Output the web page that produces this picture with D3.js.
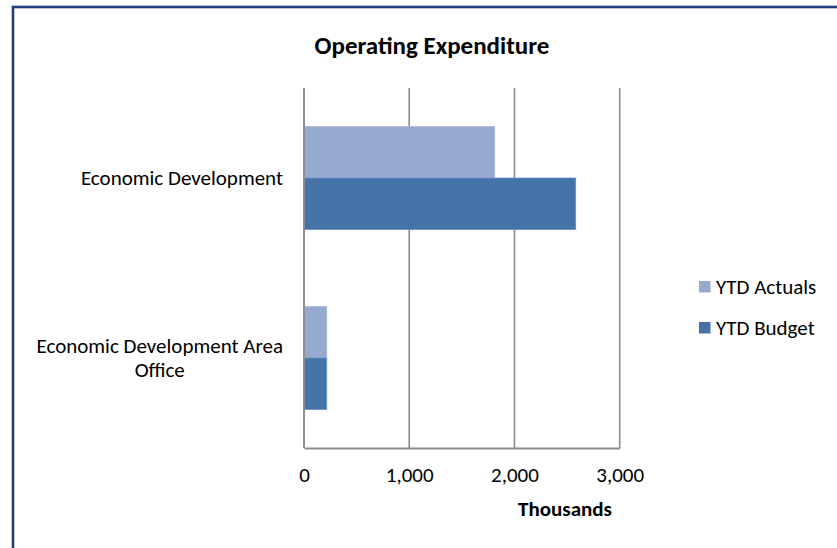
<!DOCTYPE html>
<html>
<head>
<meta charset="utf-8">
<script src="https://cdn.jsdelivr.net/npm/d3@7"></script>
<style>
  html, body { margin: 0; padding: 0; background: #fff; }
  svg { display: block; }
  text { font-family: Carlito, Calibri, Lato, "Open Sans", sans-serif; fill: #000; }
</style>
</head>
<body>
<svg id="chart" width="837" height="548"></svg>
<script>
const categories = ["Economic Development", "Economic Development Area Office"];
const seriesNames = ["YTD Actuals", "YTD Budget"];
const ytdActuals = [1812, 216];
const ytdBudget = [2582, 216];
const xTicks = [0, 1000, 2000, 3000];
const title = "Operating Expenditure";
const xAxisTitle = "Thousands";
const colors = ["#95A9D1", "#4573A7"];

const svg = d3.select("#chart");
const W = 837, H = 548;
const FS = 21;

// outer chart border
svg.append("rect")
  .attr("x", 13).attr("y", 7)
  .attr("width", W + 20).attr("height", H + 20)
  .attr("fill", "#fff")
  .attr("stroke", "#223E78").attr("stroke-width", 2.6);

const plot = { left: 304, right: 619.7, top: 88, bottom: 448 };

const x = d3.scaleLinear().domain([0, 3000]).range([plot.left, plot.right]);
const y = d3.scaleBand().domain(categories)
  .range([plot.top, plot.bottom]).paddingInner(0.428).paddingOuter(0.214);
const ys = d3.scaleBand().domain(seriesNames).range([0, y.bandwidth()]);

// title
svg.append("text")
  .attr("x", 432).attr("y", 54)
  .attr("text-anchor", "middle")
  .style("font-size", "25px").style("font-weight", "bold")
  .text(title);

// gridlines
svg.append("g").selectAll("line").data(xTicks).join("line")
  .attr("x1", d => x(d)).attr("x2", d => x(d))
  .attr("y1", plot.top).attr("y2", plot.bottom)
  .attr("stroke", "#8C8C8C").attr("stroke-width", 1.6);

// bars
const data = categories.map((c, i) => ({ cat: c, values: [ytdActuals[i], ytdBudget[i]] }));
const groups = svg.append("g").selectAll("g").data(data).join("g")
  .attr("transform", d => `translate(0,${y(d.cat)})`);
groups.selectAll("rect").data(d => d.values.map((v, j) => ({ v, s: seriesNames[j], j })))
  .join("rect")
  .attr("x", x(0))
  .attr("y", d => ys(d.s))
  .attr("width", d => x(d.v) - x(0))
  .attr("height", ys.bandwidth())
  .attr("fill", d => colors[d.j])
  .attr("stroke", d => d.j === 0 ? "#A9BADD" : "#6A8FC0")
  .attr("stroke-width", 0.8);

// axes lines
svg.append("line")
  .attr("x1", x(0)).attr("x2", x(0)).attr("y1", plot.top).attr("y2", plot.bottom)
  .attr("stroke", "#8C8C8C").attr("stroke-width", 1.8);
const xAxis = d3.axisBottom(x).tickValues(xTicks).tickSize(0).tickPadding(0)
  .tickFormat(d3.format(","));
const gx = svg.append("g").attr("transform", `translate(0,${plot.bottom})`).call(xAxis);
gx.select(".domain").attr("stroke", "#8C8C8C").attr("stroke-width", 1.8);
gx.selectAll("text")
  .attr("dy", null).attr("y", 34)
  .style("font-size", FS + "px")
  .style("font-family", "Carlito, Calibri, Lato, 'Open Sans', sans-serif")
  .attr("fill", "#000");

svg.append("text")
  .attr("x", 565).attr("y", 516)
  .attr("text-anchor", "middle")
  .style("font-size", FS + "px").style("font-weight", "bold")
  .text(xAxisTitle);

// category labels (wrapped, centred block right-aligned to 283)
const labelRight = 283;
const maxLabelWidth = 262;
categories.forEach(c => {
  const words = c.split(" ");
  const lines = [];
  let cur = "";
  const probe = svg.append("text").style("font-size", FS + "px");
  words.forEach(w => {
    const t = cur ? cur + " " + w : w;
    probe.text(t);
    if (probe.node().getComputedTextLength() > maxLabelWidth && cur) {
      lines.push(cur); cur = w;
    } else cur = t;
  });
  lines.push(cur);
  const widths = lines.map(l => { probe.text(l); return probe.node().getComputedTextLength(); });
  probe.remove();
  const blockW = d3.max(widths);
  const cx = labelRight - blockW / 2;
  const lh = 24.5;
  const cy = y(c) + y.bandwidth() / 2;
  const t = svg.append("text").attr("text-anchor", "middle").style("font-size", FS + "px");
  lines.forEach((l, i) => {
    t.append("tspan").attr("x", cx)
      .attr("y", cy + 7 + (i - (lines.length - 1) / 2) * lh)
      .text(l);
  });
});

// legend
const legend = svg.append("g").selectAll("g").data(seriesNames).join("g")
  .attr("transform", (d, i) => `translate(699,${281 + i * 41})`);
legend.append("rect").attr("width", 11.5).attr("height", 11.5)
  .attr("fill", (d, i) => colors[i]);
legend.append("text").attr("x", 17).attr("y", 12.5)
  .style("font-size", FS + "px").text(d => d);
</script>
</body>
</html>
